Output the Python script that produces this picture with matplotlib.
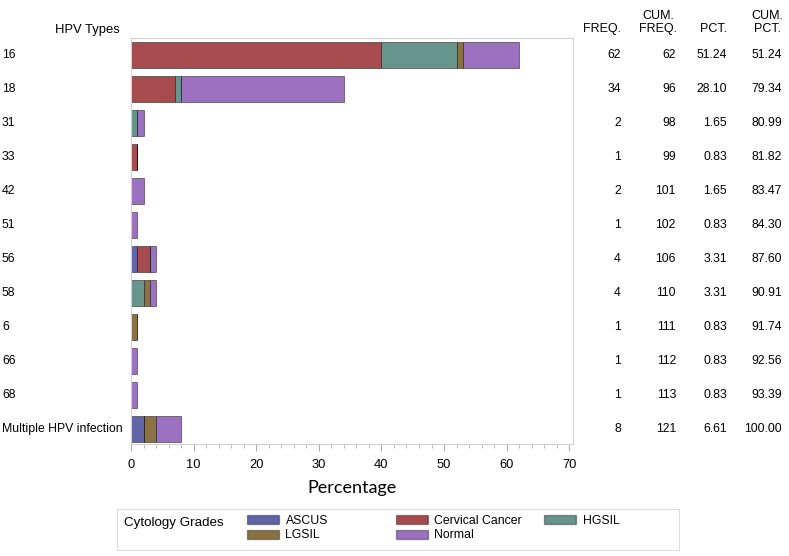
import matplotlib
matplotlib.use("Agg")
import matplotlib.pyplot as plt
import matplotlib.transforms as mtransforms
from matplotlib.patches import Patch, Rectangle
import numpy as np

plt.rcParams['font.family'] = ['Liberation Sans', 'DejaVu Sans']

# HPV types (rows, top to bottom)
hpv_types = ['16', '18', '31', '33', '42', '51', '56', '58', '6', '66', '68',
             'Multiple HPV infection']

# counts per cytology grade
grades = ['ASCUS', 'Cervical Cancer', 'HGSIL', 'LGSIL', 'Normal']
ascus = [0, 0, 0, 0, 0, 0, 1, 0, 0, 0, 0, 2]
cervical = [40, 7, 0, 1, 0, 0, 2, 0, 0, 0, 0, 0]
hgsil = [12, 1, 1, 0, 0, 0, 0, 2, 0, 0, 0, 0]
lgsil = [1, 0, 0, 0, 0, 0, 0, 1, 1, 0, 0, 2]
normal = [9, 26, 1, 0, 2, 1, 1, 1, 0, 1, 1, 4]
colors = ['#6165A8', '#A64C4E', '#67948B', '#8C7143', '#9C71C0']

# table columns
freq = [62, 34, 2, 1, 2, 1, 4, 4, 1, 1, 1, 8]
cum_freq = [62, 96, 98, 99, 101, 102, 106, 110, 111, 112, 113, 121]
pct = ['51.24', '28.10', '1.65', '0.83', '1.65', '0.83', '3.31', '3.31',
       '0.83', '0.83', '0.83', '6.61']
cum_pct = ['51.24', '79.34', '80.99', '81.82', '83.47', '84.30', '87.60',
           '90.91', '91.74', '92.56', '93.39', '100.00']

W, H = 789, 556
fig = plt.figure(figsize=(W / 100, H / 100), dpi=100)
ax = fig.add_axes([131 / W, 1 - 444 / H, 442 / W, 406 / H])

y = np.arange(len(hpv_types))
left = np.zeros(len(hpv_types))
for name, vals, c in zip(grades, [ascus, cervical, hgsil, lgsil, normal], colors):
    vals = np.array(vals, dtype=float)
    ax.barh(y, vals, left=left, height=0.76, color=c,
            edgecolor=(0, 0, 0, 0.45), linewidth=0.7, label=name)
    left += vals

ax.set_xlim(0, 70.6)
ax.set_ylim(11.44, -0.5)
ax.set_xticks(np.arange(0, 71, 10))
ax.set_xticks(np.arange(0, 71, 2), minor=True)
ax.set_yticks([])
for s in ax.spines.values():
    s.set_color('#d0d0d0')
    s.set_linewidth(0.8)
ax.tick_params(axis='x', which='major', length=5, color='#b0b0b0',
               labelsize=9.3, pad=6)
ax.tick_params(axis='x', which='minor', length=3, color='#b0b0b0')
ax.set_xlabel('Percentage', family='Lato', fontsize=13, labelpad=6)

# row labels and table, figure x / data y
tr = mtransforms.blended_transform_factory(fig.transFigure, ax.transData)
fs = 8.8
for i, lab in enumerate(hpv_types):
    ax.text(2 / W, i, lab, transform=tr, ha='left', va='center',
            fontsize=fs, clip_on=False)
    ax.text(621 / W, i, str(freq[i]), transform=tr, ha='right', va='center',
            fontsize=fs, clip_on=False)
    ax.text(676 / W, i, str(cum_freq[i]), transform=tr, ha='right',
            va='center', fontsize=fs, clip_on=False)
    ax.text(727 / W, i, pct[i], transform=tr, ha='right', va='center',
            fontsize=fs, clip_on=False)
    ax.text(782 / W, i, cum_pct[i], transform=tr, ha='right', va='center',
            fontsize=fs, clip_on=False)

fig.text(55 / W, 1 - 30 / H, 'HPV Types', ha='left', va='center', fontsize=9.4)
# headers share a baseline, two-line ones stack upward
hdr_y = 1 - 32 / H
fig.text(621 / W, hdr_y, 'FREQ.', ha='right', va='baseline', fontsize=9)
fig.text(677 / W, hdr_y, 'CUM.\nFREQ.', ha='right', va='baseline',
         fontsize=9, multialignment='center', linespacing=1.15)
fig.text(727 / W, hdr_y, 'PCT.', ha='right', va='baseline', fontsize=9)
fig.text(783 / W, hdr_y, 'CUM.\nPCT.', ha='right', va='baseline',
         fontsize=9, multialignment='center', linespacing=1.15)

# legend box with title on the left
fig.patches.append(Rectangle((117 / W, 1 - 550 / H), 562 / W, 41 / H,
                             transform=fig.transFigure, facecolor='white',
                             edgecolor='#dddddd', linewidth=0.8))
fig.text(124 / W, 1 - 523 / H, 'Cytology Grades', ha='left', va='center',
         fontsize=9.6)
columns = [[0, 3], [1, 4], [2]]
col_x = [247, 396, 544]
for ks, cx in zip(columns, col_x):
    handles = [Patch(facecolor=colors[k], edgecolor=(0, 0, 0, 0.35),
                     label=grades[k]) for k in ks]
    fig.legend(handles=handles, ncol=1, frameon=False, loc='upper left',
               bbox_to_anchor=(cx / W, 1 - 515 / H), fontsize=8.8,
               handlelength=2.6, handleheight=0.8, handletextpad=0.55,
               labelspacing=0.2, borderpad=0, borderaxespad=0)

fig.savefig('out.png', dpi=100)
